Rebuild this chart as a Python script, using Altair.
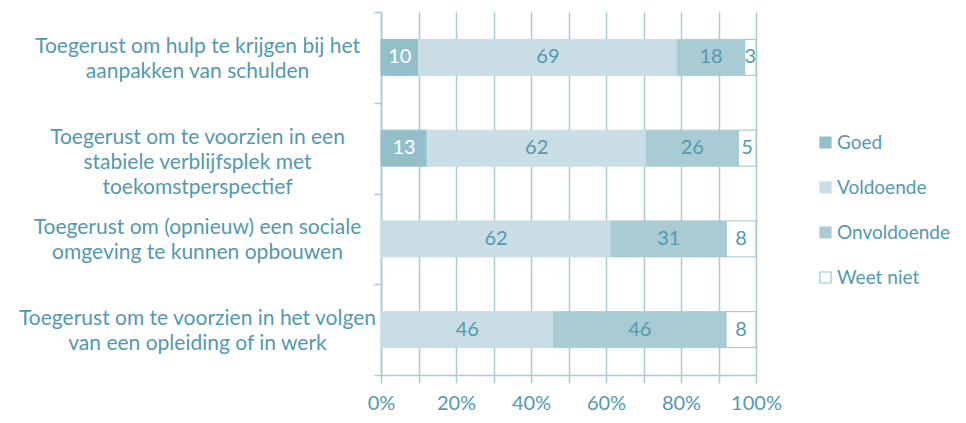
import altair as alt
import pandas as pd

categories = [
    "Toegerust om hulp te krijgen bij het|aanpakken van schulden",
    "Toegerust om te voorzien in een|stabiele verblijfsplek met|toekomstperspectief",
    "Toegerust om (opnieuw) een sociale|omgeving te kunnen opbouwen",
    "Toegerust om te voorzien in het volgen|van een opleiding of in werk",
]
responses = ["Goed", "Voldoende", "Onvoldoende", "Weet niet"]
goed = [10, 13, None, None]
voldoende = [69, 62, 62, 46]
onvoldoende = [18, 26, 31, 46]
weet_niet = [3, 5, 8, 8]
tick_values = [0, 0.1, 0.2, 0.3, 0.4, 0.5, 0.6, 0.7, 0.8, 0.9, 1.0]

fills = ["#93bfcb", "#c9dee4", "#a9cbd4", "#ffffff"]
strokes = ["#93bfcb", "#c9dee4", "#a9cbd4", "#9cc4cf"]
TEAL = "#5399af"
GRID = "#a9cbd6"
FONT = "Lato"
FS = 21

rows = []
for i, cat in enumerate(categories):
    for j, (resp, series) in enumerate(zip(responses, [goed, voldoende, onvoldoende, weet_niet])):
        v = series[i]
        if v is not None:
            rows.append({"vraag": cat, "antwoord": resp, "waarde": v, "ord": j})
df = pd.DataFrame(rows)

y_scale = alt.Scale(paddingInner=0, paddingOuter=0)
x_scale = alt.Scale(domain=[0, 1], nice=False)

y_axis = alt.Axis(
    title=None,
    labelExpr="split(datum.label, '|')",
    labelAlign="center",
    labelBaseline="middle",
    labelPadding=177,
    labelOffset=-11,
    labelLimit=0,
    labelFont=FONT,
    labelFontSize=FS,
    labelLineHeight=25,
    labelColor=TEAL,
    tickBand="extent",
    tickSize=7,
    tickColor=GRID,
    tickWidth=1.5,
    domainColor=GRID,
    domainWidth=1.5,
    grid=False,
)
x_axis = alt.Axis(
    title=None,
    values=tick_values,
    labelExpr="round(datum.value * 10) % 2 == 0 ? format(datum.value, '.0%') : ''",
    labelFlush=False,
    labelFont=FONT,
    labelFontSize=20,
    labelColor=TEAL,
    labelPadding=10,
    tickSize=8,
    tickColor=GRID,
    tickWidth=1.5,
    domainColor=GRID,
    domainWidth=1.5,
    grid=True,
    gridColor=GRID,
    gridWidth=1.5,
)

base = alt.Chart(df)

bars = base.mark_bar(size=36, strokeWidth=1).encode(
    y=alt.Y("vraag:N", sort=categories, scale=y_scale, axis=y_axis),
    x=alt.X("waarde:Q", stack="normalize", scale=x_scale, axis=x_axis),
    fill=alt.Fill(
        "antwoord:N",
        scale=alt.Scale(domain=responses, range=fills),
        legend=alt.Legend(title=None),
    ),
    stroke=alt.Stroke(
        "antwoord:N",
        scale=alt.Scale(domain=responses, range=strokes),
        legend=alt.Legend(title=None),
    ),
    order=alt.Order("ord:Q"),
)

labels = (
    base.transform_joinaggregate(total="sum(waarde)", groupby=["vraag"])
    .transform_window(
        cum="sum(waarde)",
        sort=[alt.SortField("ord")],
        groupby=["vraag"],
        frame=[None, 0],
    )
    .transform_calculate(mid="(datum.cum - datum.waarde / 2) / datum.total")
    .mark_text(font=FONT, fontSize=20, baseline="middle", align="center")
    .encode(
        y=alt.Y("vraag:N", sort=categories, scale=y_scale, axis=y_axis),
        x=alt.X("mid:Q", scale=x_scale, axis=x_axis),
        text=alt.Text("waarde:Q"),
        color=alt.condition("datum.antwoord == 'Goed'", alt.value("#ffffff"), alt.value(TEAL)),
    )
)

chart = (
    alt.layer(bars, labels)
    .properties(
        width=375,
        height=363,
        padding={"left": 373, "top": 4, "right": 202, "bottom": 40},
        autosize=alt.AutoSizeParams(type="none"),
    )
    .configure_view(stroke=None)
    .configure_legend(
        orient="none",
        legendX=435,
        legendY=121,
        symbolType="square",
        symbolSize=121,
        symbolStrokeWidth=1.2,
        labelFont=FONT,
        labelFontSize=19,
        labelColor=TEAL,
        labelOffset=2,
        rowPadding=25,
        padding=0,
    )
)

chart.save("out.html", embed_options={"renderer": "svg", "actions": False})
